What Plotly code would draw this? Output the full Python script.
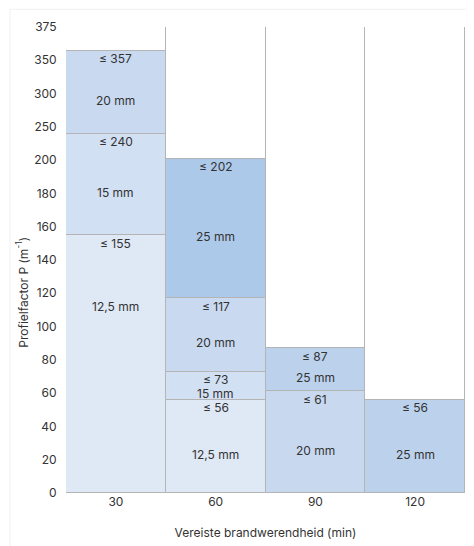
import plotly.graph_objects as go

# ---- data ----
durations = ["30", "60", "90", "120"]
y_ticks = [0, 20, 40, 60, 80, 100, 120, 140, 160, 180, 200, 250, 300, 350, 375]
y_max = 375

seg_col = ["30", "30", "30", "60", "60", "60", "60", "90", "90", "120"]
seg_low = [0, 155, 240, 0, 56, 73, 117, 0, 61, 0]
seg_high = [155, 240, 357, 56, 73, 117, 202, 61, 87, 56]
seg_name = ["12,5 mm", "15 mm", "20 mm", "12,5 mm", "15 mm", "20 mm", "25 mm",
            "20 mm", "25 mm", "25 mm"]
seg_color = ["#dfe8f5", "#d2e0f3", "#c8d9f0", "#dfe8f5", "#d2e0f3", "#c8d9f0",
             "#adc9e9", "#c8d9ef", "#bbd1ec", "#bbd1ec"]
name_override = {0: 112}   # segment index -> P value where its name sits

FONT = "Inter, Lato, sans-serif"
TXT = "#333333"
EDGE = "#b4b4b4"


def to_idx(v):
    # piecewise scale of the original axis (equal spacing between ticks)
    if v <= 200:
        return v / 20
    if v <= 350:
        return 10 + (v - 200) / 50
    return 13 + (v - 350) / 25


xpos = list(range(len(durations)))
seg_x = [durations.index(c) for c in seg_col]

fig = go.Figure()

# white full-height columns with frame
fig.add_trace(go.Bar(
    x=xpos, y=[to_idx(y_max)] * len(durations), base=[0] * len(durations),
    width=1, marker=dict(color="white", line=dict(color=EDGE, width=1)),
    hoverinfo="skip", showlegend=False))

lo = [to_idx(v) for v in seg_low]
hi = [to_idx(v) for v in seg_high]
fig.add_trace(go.Bar(
    x=seg_x, base=lo, y=[h - l for h, l in zip(hi, lo)], width=1,
    marker=dict(color=seg_color, line=dict(color=EDGE, width=1)),
    hoverinfo="skip", showlegend=False))

ann = []
for i, xi in enumerate(seg_x):
    ann.append(dict(x=xi, y=hi[i], xref="x", yref="y",
                    text="\u2264 " + str(seg_high[i]), showarrow=False,
                    yanchor="middle", yshift=-8, borderpad=0,
                    font=dict(size=12, color=TXT, family=FONT)))
    if i in name_override:
        ym, ys = to_idx(name_override[i]), 0
    else:
        ym, ys = (hi[i] + lo[i]) / 2, -8
    ann.append(dict(x=xi, y=ym, xref="x", yref="y", text=seg_name[i], showarrow=False,
                    yanchor="middle", yshift=ys, borderpad=0,
                    font=dict(size=12, color=TXT, family=FONT)))

# y-axis title (sits below the axis centre in the original)
ann.append(dict(x=-0.11, y=0.43, xref="paper", yref="paper",
                text="Profielfactor P (m<sup>-1</sup>)", textangle=-90, showarrow=False,
                xanchor="center", yanchor="middle",
                font=dict(size=12, color=TXT, family=FONT)))

fig.update_layout(
    width=474, height=546,
    margin=dict(l=58, r=17, t=19, b=61),
    paper_bgcolor="white", plot_bgcolor="white",
    barmode="overlay", bargap=0,
    font=dict(family=FONT, size=12, color=TXT),
    annotations=ann,
    shapes=[dict(type="rect", xref="paper", yref="paper", x0=-0.1404, x1=1.2,
                 y0=-0.3, y1=1.038, line=dict(color="#f0f0f0", width=1),
                 fillcolor="rgba(0,0,0,0)", layer="below")],
    xaxis=dict(range=[-0.5, 3.5], tickvals=xpos, ticktext=durations,
               showgrid=False, zeroline=False, automargin=False,
               showline=False, ticks="", tickfont=dict(size=12, color=TXT),
               title=dict(text="Vereiste brandwerendheid (min)", standoff=20,
                          font=dict(size=12, color=TXT))),
    yaxis=dict(range=[0, to_idx(y_max)], tickvals=[to_idx(t) for t in y_ticks],
               ticktext=[str(t) for t in y_ticks], showgrid=False, zeroline=False,
               showline=False, ticks="outside", ticklen=6, tickcolor="white",
               automargin=False, tickfont=dict(size=12, color=TXT)),
)

fig.write_html("out.html")
